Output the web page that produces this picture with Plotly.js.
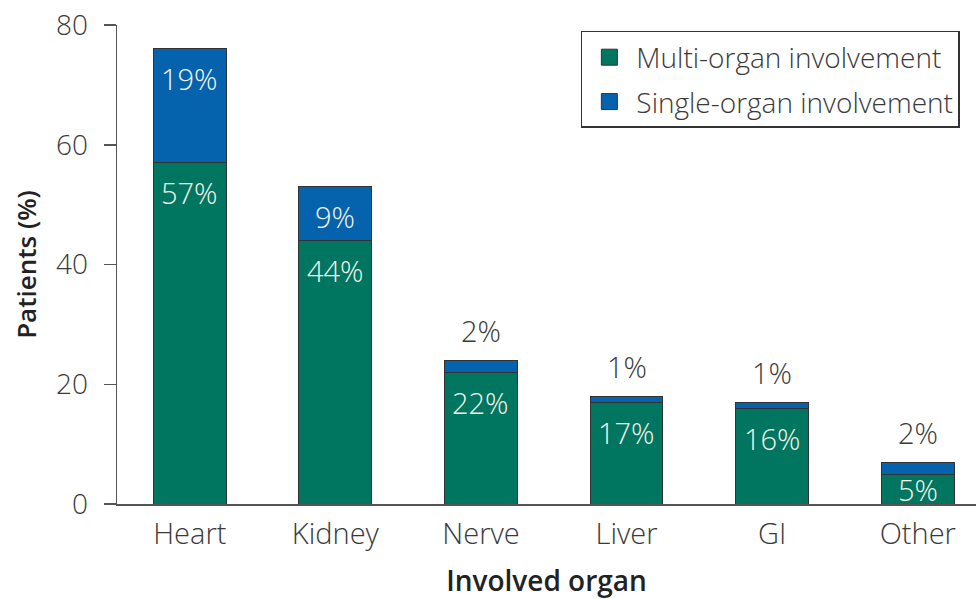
<!DOCTYPE html>
<html>
<head>
<meta charset="utf-8">
<script src="https://cdn.plot.ly/plotly-3.0.1.min.js"></script>
<style>html,body{margin:0;padding:0;background:#fff;}#chart{width:976px;height:599px;}</style>
</head>
<body>
<div id="chart"></div>
<script>
// Data
const organs = ["Heart", "Kidney", "Nerve", "Liver", "GI", "Other"];
const multiOrgan = [57, 44, 22, 17, 16, 5];
const singleOrgan = [19, 9, 2, 1, 1, 2];
const seriesNames = ["Multi-organ involvement", "Single-organ involvement"];
const yTicks = [0, 20, 40, 60, 80];

const GREEN = "#007560";
const BLUE = "#0563AE";
const OUTLINE = "#333333";
const FONT = "'Open Sans', Lato, sans-serif";
const TITLEFONT = "'Open Sans', Roboto, sans-serif";
const Y_MAX = 80;
const PLOT_H = 599 - 25 - 95;
const PX_PER_UNIT = PLOT_H / Y_MAX;

const traces = [
  {
    type: "bar", x: organs, y: multiOrgan, name: seriesNames[0],
    marker: {color: GREEN, line: {color: OUTLINE, width: 1}},
    width: 0.5, showlegend: false, hoverinfo: "skip"
  },
  {
    type: "bar", x: organs, y: singleOrgan, name: seriesNames[1],
    marker: {color: BLUE, line: {color: OUTLINE, width: 1}},
    width: 0.5, showlegend: false, hoverinfo: "skip"
  },
  // legend entries
  {
    type: "scatter", mode: "markers", x: [null], y: [null], name: seriesNames[0],
    legendgroup: "a",
    marker: {symbol: "square", size: 16, color: GREEN, line: {color: OUTLINE, width: 1}},
    hoverinfo: "skip"
  },
  {
    type: "scatter", mode: "markers", x: [null], y: [null], name: seriesNames[1],
    legendgroup: "b",
    marker: {symbol: "square", size: 16, color: BLUE, line: {color: OUTLINE, width: 1}},
    hoverinfo: "skip"
  }
];

const LABEL_FONT = {family: FONT, size: 29, color: "#F4F4EA", weight: 300};
const OUT_FONT = {family: FONT, size: 29, color: "#3a3a3a", weight: 300};
const annotations = [];
organs.forEach((o, i) => {
  annotations.push({
    x: o, y: multiOrgan[i], xref: "x", yref: "y",
    yshift: -Math.min(30, multiOrgan[i] * PX_PER_UNIT / 2),
    text: multiOrgan[i] + "%", showarrow: false, font: LABEL_FONT
  });
  const inside = singleOrgan[i] >= 5;
  annotations.push({
    x: o, y: multiOrgan[i] + singleOrgan[i], xref: "x", yref: "y",
    yshift: inside ? -30 : 30,
    text: singleOrgan[i] + "%", showarrow: false,
    font: inside ? LABEL_FONT : OUT_FONT
  });
});

const layout = {
  width: 976, height: 599,
  margin: {l: 117, r: 0, t: 25, b: 95, autoexpand: false},
  paper_bgcolor: "#fff", plot_bgcolor: "#fff",
  barmode: "stack",
  font: {family: FONT, color: "#3a3a3a"},
  xaxis: {
    type: "category", categoryorder: "array", categoryarray: organs,
    range: [-0.5, 5.4],
    showline: true, linecolor: "#555", linewidth: 1.5,
    ticks: "", showgrid: false, zeroline: false,
    tickfont: {family: FONT, size: 29, color: "#3a3a3a", weight: 300},
    ticklabelstandoff: 4,
    title: {text: "Involved organ", standoff: 21,
            font: {family: TITLEFONT, size: 28, color: "#222", weight: 600}}
  },
  yaxis: {
    range: [0, Y_MAX], tickvals: yTicks, ticktext: yTicks.map(String),
    showline: true, linecolor: "#555", linewidth: 1.5,
    ticks: "outside", ticklen: 12, tickwidth: 1.5, tickcolor: "#555",
    showgrid: false, zeroline: false,
    tickfont: {family: FONT, size: 28, color: "#3a3a3a", weight: 300},
    ticklabelstandoff: 10,
    title: {text: "Patients (%)", standoff: 12,
            font: {family: TITLEFONT, size: 26, color: "#222", weight: 600}}
  },
  legend: {
    x: 0.54, y: 0.9875, xanchor: "left", yanchor: "top",
    bgcolor: "#fff", bordercolor: "#333", borderwidth: 1.5,
    font: {family: FONT, size: 28, color: "#3a3a3a", weight: 300},
    traceorder: "grouped", tracegroupgap: 5, itemwidth: 44
  },
  annotations: annotations
};

Plotly.newPlot("chart", traces, layout, {displayModeBar: false, staticPlot: true});
</script>
</body>
</html>
